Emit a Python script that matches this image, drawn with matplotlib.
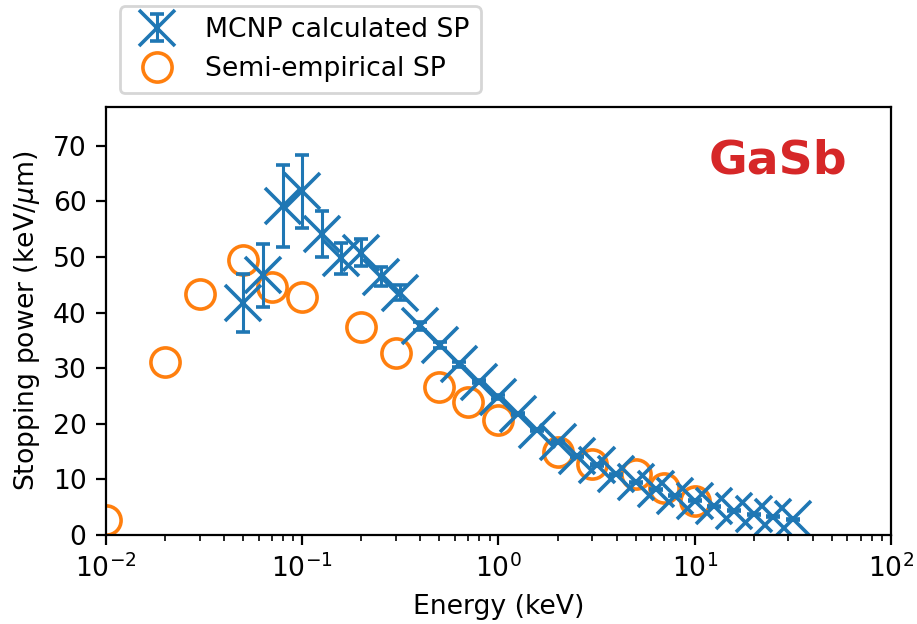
"""Stopping power of GaSb: MCNP calculation vs semi-empirical values."""

import matplotlib

matplotlib.use("Agg")
import matplotlib.pyplot as plt
from matplotlib.ticker import MultipleLocator

# MCNP calculated stopping power (keV/um) with statistical error
mcnp_energy = [0.0501, 0.0631, 0.0794, 0.1, 0.126, 0.158, 0.2, 0.251, 0.316,
               0.398, 0.501, 0.631, 0.794, 1.0, 1.26, 1.58, 2.0, 2.51, 3.16,
               3.98, 5.01, 6.31, 7.94, 10.0, 12.6, 15.8, 20.0, 25.1, 31.6]
mcnp_sp = [41.7, 46.7, 59.2, 61.8, 54.1, 49.8, 50.8, 46.5, 43.6,
           37.6, 34.2, 30.7, 27.6, 24.8, 21.8, 18.9, 16.7, 14.2, 12.6,
           10.9, 9.5, 8.2, 7.1, 6.2, 5.2, 4.4, 3.7, 3.3, 2.8]
mcnp_err = [5.2, 5.7, 7.4, 6.5, 4.1, 2.8, 2.4, 1.7, 1.4,
            0.8, 0.6, 0.4, 0.3, 0.3, 0.2, 0.2, 0.2, 0.1, 0.1,
            0.1, 0.1, 0.1, 0.1, 0.1, 0.1, 0.1, 0.1, 0.1, 0.1]

# Semi-empirical stopping power
semi_energy = [0.01, 0.02, 0.03, 0.05, 0.07, 0.1, 0.2, 0.3, 0.5, 0.7,
               1.0, 2.0, 3.0, 5.0, 7.0, 10.0]
semi_sp = [2.7, 31.2, 43.3, 49.5, 44.7, 42.9, 37.5, 32.8, 26.7, 24.0,
           20.7, 15.0, 12.8, 11.0, 8.4, 6.2]

plt.rcParams["font.size"] = 9.6

fig = plt.figure(figsize=(917 / 200, 624 / 200), dpi=200)
ax = fig.add_axes([106 / 917, 89 / 624, 785 / 917, 428 / 624])

semi = ax.plot(semi_energy, semi_sp, "o", mfc="none", mec="#ff7f0e",
               ms=10.5, mew=1.3, label="Semi-empirical SP")[0]
mcnp = ax.errorbar(mcnp_energy, mcnp_sp, yerr=mcnp_err, fmt="x",
                   color="#1f77b4", ms=13, mew=1.3, elinewidth=1.1,
                   capsize=2.5, capthick=1.1, label="MCNP calculated SP")

ax.set_xscale("log")
ax.set_xlim(1e-2, 1e2)
ax.set_ylim(0, 77)
ax.yaxis.set_major_locator(MultipleLocator(10))
ax.set_xlabel("Energy (keV)")
ax.set_ylabel("Stopping power (keV/$\\mu$m)")

ax.text(0.944, 0.875, "GaSb", transform=ax.transAxes, ha="right",
        va="center", color="#d62728", fontsize=17, fontweight="bold")

ax.legend([mcnp, semi], ["MCNP calculated SP", "Semi-empirical SP"],
          loc="lower left", bbox_to_anchor=(0.018, 1.033), borderaxespad=0)

fig.savefig("out.png", dpi=200)
